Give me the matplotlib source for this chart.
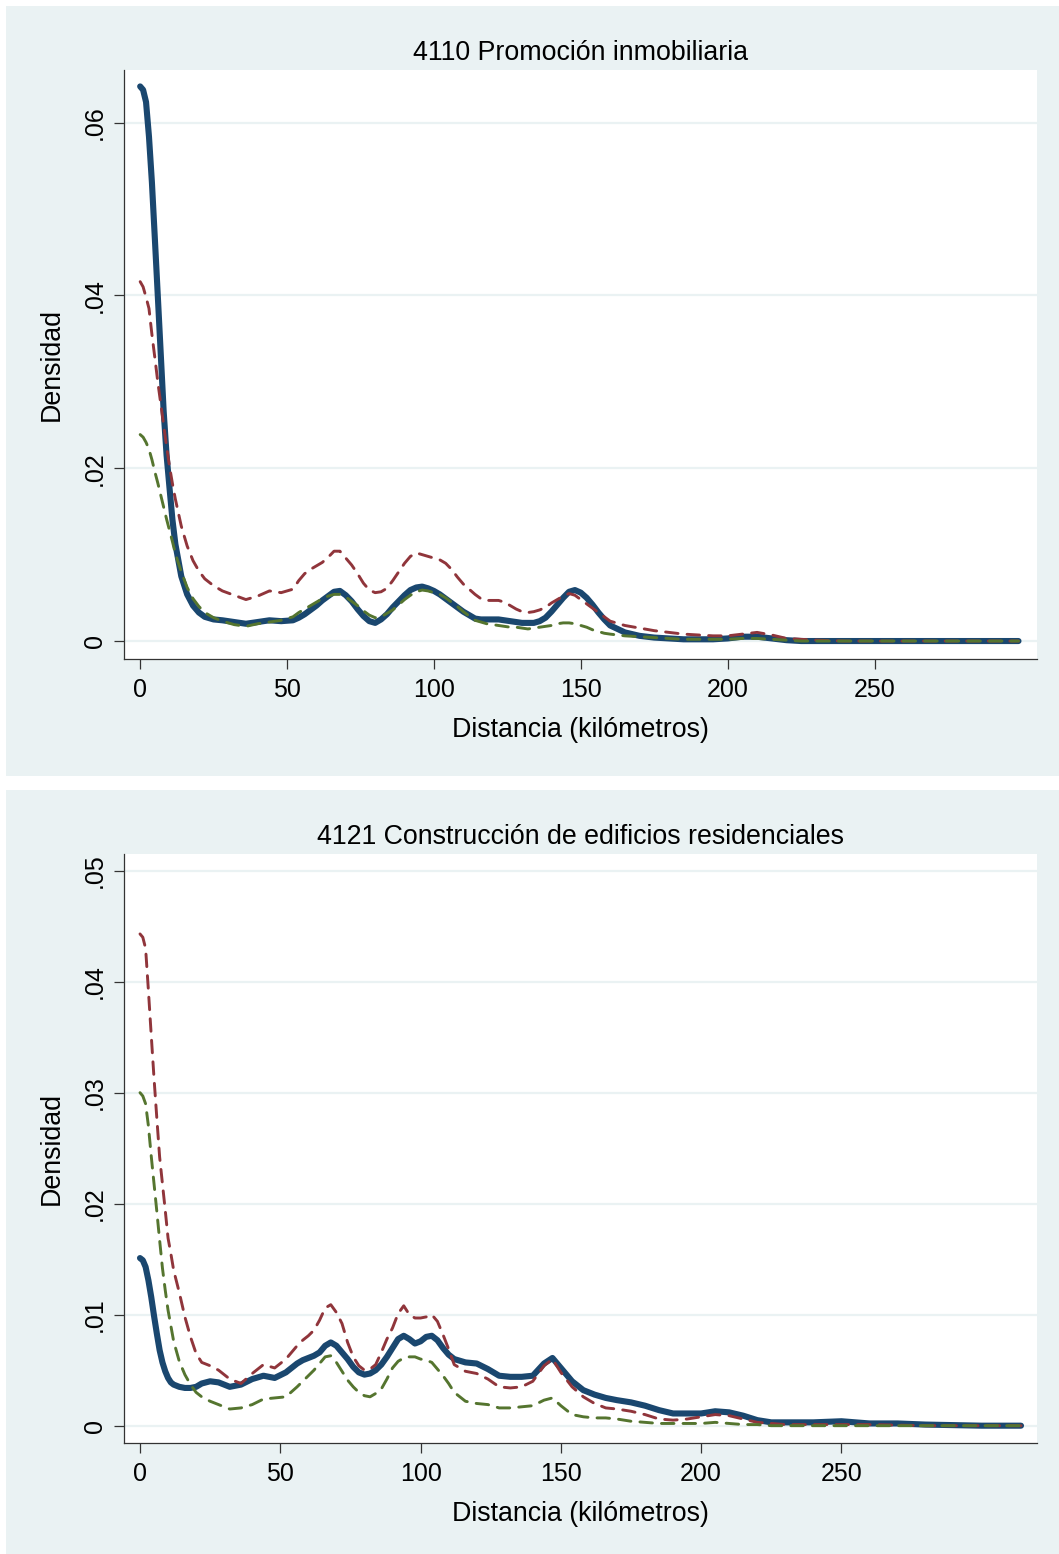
import matplotlib
matplotlib.use('Agg')
import matplotlib.pyplot as plt
from matplotlib.patches import Rectangle

plt.rcParams['font.family'] = ['Liberation Sans', 'DejaVu Sans']

# 4110 Promoción inmobiliaria: density estimates by distance (km)
km_4110 = (list(range(0, 13)) + [14, 16, 18, 20, 22, 25, 28, 32, 36, 40, 44, 48]
           + list(range(52, 161, 2))
           + [165, 170, 175, 180, 185, 190, 195, 200, 205, 210, 215, 220, 225,
              230, 240, 260, 280, 299])
navy_4110 = [.0642, .0638, .0624, .0584, .0531, .0466, .0400, .0333, .0266, .0215,
             .0177, .0140, .0112, .0075, .0054, .0041, .0033, .0028, .0025, .0024,
             .0022, .0020, .0022, .0024, .0023,
             .0024, .0027, .0031, .0036, .0041, .0047, .0052, .0057, .0058, .0053,
             .0046, .0037, .0029, .0023, .0021, .0025, .0031, .0039, .0046, .0053,
             .0059, .0062, .0063, .0061, .0058, .0054, .0049, .0044, .0039, .0034,
             .0030, .0026, .0025, .0025, .0025, .0025, .0024, .0023, .0022, .0021,
             .0021, .0021, .0023, .0027, .0034, .0042, .0050, .0057, .0059, .0056,
             .0050, .0042, .0033, .0025, .0018,
             .0010, .0006, .0004, .0003, .0002, .0002, .0002, .0003, .0005, .0005,
             .0003, .0001, .0000, .0000, .0000, .0000, .0000, .0000]
maroon_4110 = [.0416, .0410, .0398, .0385, .0355, .0328, .0300, .0275, .0250, .0225,
               .0202, .0182, .0164, .0133, .0110, .0093, .0081, .0072, .0064, .0058,
               .0053, .0048, .0052, .0058, .0056,
               .0060, .0070, .0078, .0083, .0087, .0091, .0097, .0104, .0104, .0096,
               .0088, .0078, .0067, .0059, .0056, .0057, .0061, .0070, .0080, .0090,
               .0098, .0102, .0100, .0098, .0096, .0094, .0090, .0083, .0074, .0066,
               .0060, .0054, .0049, .0047, .0047, .0047, .0045, .0041, .0037, .0034,
               .0033, .0034, .0036, .0039, .0044, .0048, .0052, .0055, .0053, .0048,
               .0043, .0038, .0033, .0028, .0023,
               .0018, .0015, .0012, .0010, .0008, .0007, .0006, .0006, .0008, .0010,
               .0007, .0003, .0002, .0001, .0000, .0000, .0000, .0000]
green_4110 = [.0239, .0236, .0230, .0222, .0210, .0196, .0183, .0169, .0155, .0141,
              .0128, .0115, .0101, .0080, .0062, .0049, .0040, .0033, .0027, .0023,
              .0019, .0017, .0020, .0022, .0024,
              .0028, .0033, .0037, .0041, .0045, .0049, .0052, .0054, .0054, .0051,
              .0046, .0041, .0035, .0030, .0027, .0028, .0032, .0036, .0042, .0048,
              .0053, .0057, .0059, .0058, .0056, .0054, .0050, .0045, .0040, .0034,
              .0029, .0024, .0022, .0020, .0019, .0018, .0017, .0016, .0016, .0015,
              .0014, .0015, .0016, .0017, .0018, .0020, .0021, .0021, .0020, .0018,
              .0016, .0013, .0011, .0009, .0008,
              .0006, .0005, .0004, .0003, .0002, .0002, .0002, .0002, .0003, .0003,
              .0002, .0001, .0000, .0000, .0000, .0000, .0000, .0000]

# 4121 Construcción de edificios residenciales
km_4121 = [0, 1, 2, 3, 4, 5, 6, 7, 8, 9, 10, 11, 12, 14, 16, 18, 20, 22, 25, 28,
           32, 36, 40, 44, 48, 52, 56, 58, 60, 62, 64, 66, 68, 70, 72, 74, 76, 78,
           80, 82, 84, 86, 88, 90, 92, 94, 96, 98, 100, 102, 104, 106, 108, 110,
           112, 116, 120, 124, 128, 132, 136, 140, 144, 147, 150, 154, 158, 162,
           166, 170, 175, 180, 185, 190, 195, 200, 205, 210, 215, 220, 225, 230,
           240, 250, 260, 270, 280, 290, 300, 314]
navy_4121 = [.0151, .0149, .0143, .0131, .0116, .0099, .0083, .0068, .0057, .0049,
             .0043, .0039, .0037, .0035, .0034, .0034, .0035, .0038, .0040, .0039,
             .0035, .0037, .0042, .0045, .0043, .0048, .0056, .0059, .0061, .0063,
             .0066, .0072, .0075, .0072, .0066, .0060, .0053, .0048, .0046, .0047,
             .0050, .0055, .0062, .0070, .0078, .0081, .0078, .0074, .0076, .0080,
             .0081, .0077, .0070, .0064, .0060, .0057, .0056, .0051, .0045, .0044,
             .0044, .0045, .0056, .0061, .0052, .0040, .0032, .0028, .0025, .0023,
             .0021, .0018, .0014, .0011, .0011, .0011, .0013, .0012, .0009, .0005,
             .0003, .0003, .0003, .0004, .0002, .0002, .0001, .00005, .0000, .0000]
maroon_4121 = [.0443, .0440, .0430, .0392, .0352, .0313, .0277, .0242, .0218, .0194,
               .0169, .0155, .0140, .0120, .0098, .0080, .0065, .0057, .0054, .0050,
               .0042, .0038, .0047, .0055, .0052, .0060, .0072, .0077, .0081, .0086,
               .0095, .0106, .0109, .0102, .0092, .0075, .0062, .0054, .0050, .0051,
               .0055, .0066, .0078, .0088, .0101, .0108, .0100, .0097, .0097, .0098,
               .0100, .0094, .0082, .0069, .0055, .0049, .0047, .0042, .0035, .0034,
               .0035, .0040, .0054, .0060, .0048, .0035, .0026, .0020, .0016, .0015,
               .0013, .0010, .0006, .0005, .0006, .0008, .0010, .0009, .0006, .0003,
               .0002, .0001, .0001, .0001, .0001, .00005, .0000, .0000, .0000, .0000]
green_4121 = [.0300, .0297, .0290, .0270, .0243, .0218, .0193, .0167, .0142, .0122,
              .0104, .0090, .0076, .0058, .0046, .0037, .0030, .0026, .0022, .0019,
              .0015, .0016, .0019, .0024, .0025, .0026, .0035, .0040, .0045, .0050,
              .0056, .0062, .0063, .0057, .0049, .0041, .0035, .0030, .0027, .0026,
              .0029, .0033, .0042, .0052, .0058, .0061, .0062, .0062, .0060, .0059,
              .0057, .0051, .0045, .0038, .0030, .0022, .0020, .0019, .0016, .0016,
              .0017, .0018, .0023, .0025, .0018, .0010, .0008, .0007, .0007, .0006,
              .0004, .0003, .0002, .0002, .0002, .0002, .0003, .0002, .0001, .0001,
              .0000, .0000, .0000, .0000, .0000, .0000, .0000, .0000, .0000, .0000]

titles = ['4110 Promoción inmobiliaria',
          '4121 Construcción de edificios residenciales']
xticks = [0, 50, 100, 150, 200, 250]
yticks_4110 = [0, .02, .04, .06]
ylabels_4110 = ['0', '.02', '.04', '.06']
yticks_4121 = [0, .01, .02, .03, .04, .05]
ylabels_4121 = ['0', '.01', '.02', '.03', '.04', '.05']

BG = '#eaf2f3'
NAVY = '#1a476f'
MAROON = '#90353b'
GREEN = '#55752f'

W, H = 1059, 1554
fig = plt.figure(figsize=(W / 100, H / 100), dpi=100, facecolor='white')

# panel backgrounds (pixel boxes: left, top, right, bottom)
for (l, t, r, b) in [(6, 6, 1059, 776), (6, 790, 1059, 1554)]:
    fig.patches.append(Rectangle((l / W, 1 - b / H), (r - l) / W, (b - t) / H,
                                 transform=fig.transFigure, facecolor=BG,
                                 edgecolor='none', zorder=-5))

panels = [
    dict(box=(124, 70, 1037, 659), km=km_4110, navy=navy_4110, maroon=maroon_4110,
         green=green_4110, xlim=(-5.5, 305.3), ylim=(-0.00208, 0.0661),
         yt=yticks_4110, yl=ylabels_4110, title=titles[0]),
    dict(box=(124, 854, 1037, 1443), km=km_4121, navy=navy_4121, maroon=maroon_4121,
         green=green_4121, xlim=(-5.7, 319.7), ylim=(-0.00156, 0.0515),
         yt=yticks_4121, yl=ylabels_4121, title=titles[1]),
]

for p in panels:
    l, t, r, b = p['box']
    ax = fig.add_axes([l / W, 1 - b / H, (r - l) / W, (b - t) / H])
    ax.set_zorder(1)
    ax.set_facecolor('white')
    for y in p['yt']:
        ax.axhline(y, color=BG, lw=1.6, zorder=1)
    ax.plot(p['km'], p['navy'], color=NAVY, lw=4.4, solid_capstyle='round',
            solid_joinstyle='round', zorder=3)
    ax.plot(p['km'], p['maroon'], color=MAROON, lw=2.1, dashes=(4.3, 3.1),
            dash_capstyle='round', dash_joinstyle='round', zorder=4)
    ax.plot(p['km'], p['green'], color=GREEN, lw=2.1, dashes=(4.3, 3.1),
            dash_capstyle='round', dash_joinstyle='round', zorder=5)
    ax.set_xlim(*p['xlim'])
    ax.set_ylim(*p['ylim'])
    ax.set_xticks(xticks)
    ax.set_xticklabels([str(v) for v in xticks])
    ax.set_yticks(p['yt'])
    ax.set_yticklabels(p['yl'], rotation=90, va='center')
    ax.tick_params(axis='both', direction='out', length=7.5, width=0.9,
                   labelsize=18, color='#333333')
    ax.tick_params(axis='x', pad=6.5)
    ax.tick_params(axis='y', pad=5)
    for side in ('top', 'right'):
        ax.spines[side].set_visible(False)
    for side in ('left', 'bottom'):
        ax.spines[side].set_color('#333333')
        ax.spines[side].set_linewidth(0.9)
    ax.set_xlabel('Distancia (kilómetros)', fontsize=19.3, labelpad=10.5)
    ax.set_ylabel('Densidad', fontsize=19.3, labelpad=13)
    ax.set_title(p['title'], fontsize=19.3, pad=7.5)

fig.savefig('out.png', dpi=100, facecolor='white')
